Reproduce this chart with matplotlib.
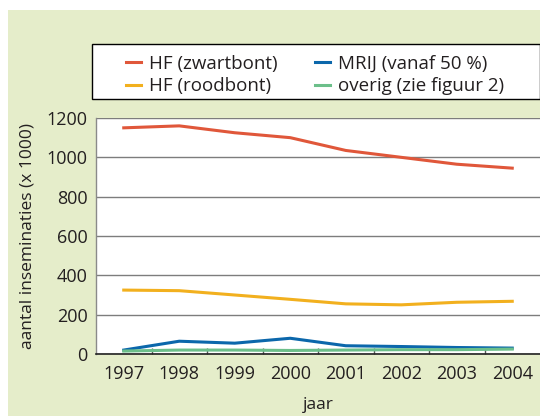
import numpy as np
import matplotlib
matplotlib.use('Agg')
import matplotlib.pyplot as plt
from matplotlib.patches import Rectangle
from matplotlib.ticker import FixedLocator

years = ['1997', '1998', '1999', '2000', '2001', '2002', '2003', '2004']
hf_zwart = [1150, 1160, 1125, 1100, 1035, 1000, 965, 945]
hf_rood = [325, 322, 300, 278, 255, 250, 263, 268]
mrij = [20, 65, 55, 80, 42, 38, 33, 30]
overig = [15, 20, 20, 18, 20, 22, 22, 25]

C_ZWART = '#e0573a'
C_ROOD = '#f2b01e'
C_MRIJ = '#0b67ab'
C_OVERIG = '#6cbf8a'
BG = '#e5edca'
TXT = '#231f20'

plt.rcParams['font.family'] = ['Open Sans', 'DejaVu Sans']

fig = plt.figure(figsize=(5.4, 4.16), dpi=100, facecolor='white')
fig.patches.append(Rectangle((8 / 540, 0), 1 - 8 / 540, 1 - 10 / 416,
                             transform=fig.transFigure, facecolor=BG,
                             edgecolor='none', zorder=-10))
# legend box
fig.patches.append(Rectangle((92 / 540, 1 - 99 / 416), 1 - 92 / 540 - 0.5 / 540, 55 / 416,
                             transform=fig.transFigure, facecolor='white',
                             edgecolor='black', linewidth=1, zorder=-5))

ax = fig.add_axes([96 / 540, 1 - 354 / 416, 1 - 96 / 540, (354 - 118) / 416])
x = np.arange(len(years))
lines = []
for vals, col, lab in [(hf_zwart, C_ZWART, 'HF (zwartbont)'),
                       (hf_rood, C_ROOD, 'HF (roodbont)'),
                       (mrij, C_MRIJ, 'MRIJ (vanaf 50 %)'),
                       (overig, C_OVERIG, 'overig (zie figuur 2)')]:
    l, = ax.plot(x, vals, color=col, linewidth=2.2, label=lab, zorder=3)
    lines.append(l)

ax.set_xlim(-0.5, 7.5)
ax.set_ylim(0, 1200)
ax.set_yticks(range(0, 1201, 200))
ax.set_xticks(x)
ax.set_xticklabels(years)
ax.xaxis.set_minor_locator(FixedLocator(np.arange(0.5, 7, 1)))
ax.tick_params(axis='x', which='major', length=0, pad=8, labelsize=13, labelcolor=TXT)
ax.tick_params(axis='x', which='minor', direction='in', length=4, width=1, color='#555555')
ax.tick_params(axis='y', length=0, pad=6, labelsize=13, labelcolor=TXT)
ax.grid(axis='y', color='#7d7d7d', linewidth=1)
ax.set_axisbelow(True)
for s in ['top', 'right']:
    ax.spines[s].set_visible(False)
ax.spines['left'].set_color('#8a8a8a')
ax.spines['bottom'].set_color('#222222')
ax.spines['left'].set_linewidth(1)
ax.spines['bottom'].set_linewidth(1.2)
ax.set_facecolor('white')

ax.set_xlabel('jaar', fontsize=12.5, color=TXT, labelpad=10)
ax.set_ylabel('aantal inseminaties (x 1000)', fontsize=12.5, color=TXT, labelpad=8)

leg = fig.legend(handles=lines, ncol=2,
                 loc='center', bbox_to_anchor=(315 / 540, 1 - 75 / 416),
                 frameon=False, fontsize=13.5,
                 handlelength=0.8, handletextpad=0.43, columnspacing=2.0,
                 labelspacing=0.25, borderaxespad=0)
for t in leg.get_texts():
    t.set_color(TXT)

fig.savefig('out.png', dpi=100, facecolor='white')
